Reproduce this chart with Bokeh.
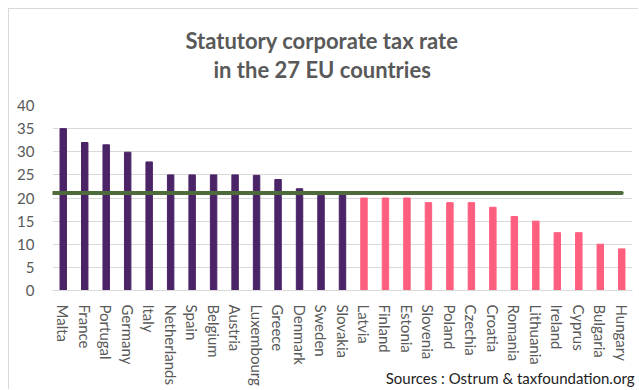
from bokeh.plotting import figure
from bokeh.models import ColumnDataSource, FactorRange, Title
from bokeh.transform import dodge
from bokeh.embed import file_html
from bokeh.resources import INLINE

countries = ["Malta", "France", "Portugal", "Germany", "Italy", "Netherlands", "Spain",
             "Belgium", "Austria", "Luxembourg", "Greece", "Denmark", "Sweden", "Slovakia",
             "Latvia", "Finland", "Estonia", "Slovenia", "Poland", "Czechia", "Croatia",
             "Romania", "Lithuania", "Ireland", "Cyprus", "Bulgaria", "Hungary"]
rates = [35, 32, 31.5, 29.9, 27.8, 25, 25, 25, 25, 24.9, 24, 22, 20.6, 21,
         20, 20, 20, 19, 19, 19, 18, 16, 15, 12.5, 12.5, 10, 9]
group = ["above"] * 14 + ["below"] * 13
eu_average = 21.1
above_color = "#4B2367"
below_color = "#FF5F7E"
y_ticks = [0, 5, 10, 15, 20, 25, 30, 35, 40]
title_lines = ["Statutory corporate tax rate", "in the 27 EU countries"]
source_note = "Sources : Ostrum & taxfoundation.org"

colors = [above_color if g == "above" else below_color for g in group]
src = ColumnDataSource(dict(country=countries, rate=rates, color=colors))

FONT = "Lato"
GREY = "#595959"

p = figure(width=630, height=381, x_range=FactorRange(*countries, range_padding=0),
           y_range=(0, 40), output_backend="svg", toolbar_location=None,
           min_border_left=43, min_border_right=7, min_border_top=96, min_border_bottom=100,
           styles={"margin-left": "8px", "margin-top": "8px",
                   "border-left": "1px solid #d9d9d9", "border-top": "1px solid #d9d9d9"})
p.outline_line_color = None
p.background_fill_color = "white"
p.border_fill_color = "white"

p.vbar(x="country", top="rate", width=0.3, color="color", source=src)

line_src = ColumnDataSource(dict(x0=[countries[0]], x1=[countries[-1]], y=[eu_average]))
p.segment(x0=dodge("x0", -0.5, range=p.x_range), x1="x1", y0="y", y1="y",
          line_color="#4E6B3C", line_width=4, line_cap="round", source=line_src)

p.xgrid.grid_line_color = None
p.ygrid.grid_line_color = "#d9d9d9"
p.ygrid.grid_line_width = 1
p.yaxis.ticker = y_ticks
p.yaxis.axis_line_color = None
p.yaxis.major_tick_line_color = None
p.yaxis.minor_tick_line_color = None
p.yaxis.major_label_text_font = FONT
p.yaxis.major_label_text_font_size = "15px"
p.yaxis.major_label_text_color = GREY
p.yaxis.major_label_standoff = 12

p.xaxis.axis_line_color = "#d9d9d9"
p.xaxis.major_tick_line_color = None
p.xaxis.major_label_orientation = "vertical"
p.xaxis.major_label_text_font = FONT
p.xaxis.major_label_text_font_size = "15px"
p.xaxis.major_label_text_color = GREY
p.xaxis.major_label_standoff = 8

p.title = None
# stacked outward from the frame: spacer, second line, first line
p.add_layout(Title(text=" ", text_font_size="1px", standoff=20), "above")
p.add_layout(Title(text=title_lines[1], align="left", offset=161, standoff=0,
                   text_font=FONT, text_font_size="22px", text_font_style="bold",
                   text_color=GREY), "above")
p.add_layout(Title(text=title_lines[0], align="left", offset=133, standoff=0,
                   text_font=FONT, text_font_size="22px", text_font_style="bold",
                   text_color=GREY), "above")

p.add_layout(Title(text=source_note, align="right", offset=-2, standoff=-40, vertical_align="top",
                   text_font=FONT, text_font_size="15px", text_font_style="normal",
                   text_color="#222222"), "below")

open("out.html", "w").write(file_html(p, INLINE))
